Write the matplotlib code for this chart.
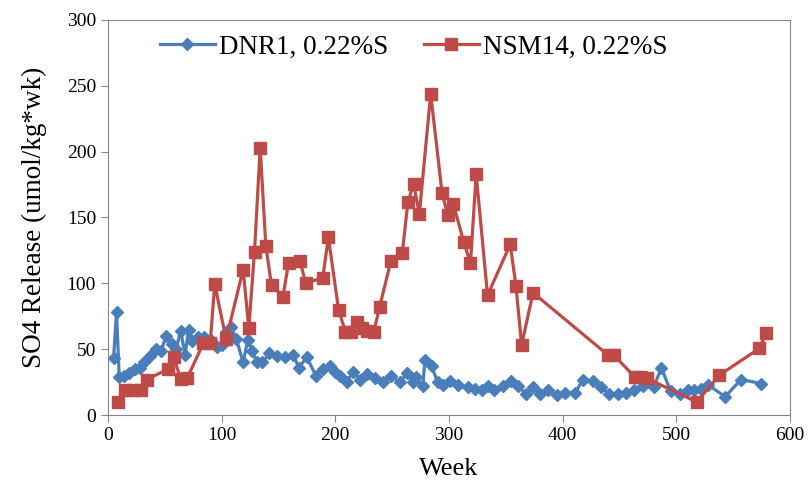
import numpy as np
import matplotlib.pyplot as plt

plt.rcParams['font.family'] = ['Liberation Serif', 'DejaVu Serif']

# DNR1 series (week, SO4 release)
dnr_week = [5, 7.6, 10, 14, 19, 24, 28, 32, 37, 42, 47, 51, 56, 60, 64, 68, 71, 74,
            79, 85, 91, 96, 100, 104, 108, 113, 119, 123, 127, 131, 136, 142, 149,
            156, 163, 168, 175, 183, 189, 195, 200, 204, 210, 216, 222, 228, 235,
            242, 249, 257, 263, 268, 271, 277, 279, 285, 290, 295, 301, 308, 317,
            323, 329, 334, 340, 348, 355, 361, 368, 374, 380, 387, 395, 402, 411,
            418, 427, 434, 441, 449, 456, 463, 471, 480, 487, 495, 503, 510, 516,
            522, 528, 543, 557, 575]
dnr_val = [43, 78, 29, 30, 32, 35, 36, 40, 45, 50, 49, 60, 54, 50, 64, 46, 65, 56,
           59, 59, 57, 52, 53, 63, 67, 58, 40, 57, 49, 40, 40, 47, 45,
           44, 46, 36, 44, 30, 35, 37, 33, 30, 25, 33, 27, 31, 28,
           25, 30, 25, 32, 25, 29, 22, 42, 37, 25, 23, 26, 23, 21,
           20, 19, 22, 19, 22, 26, 22, 16, 21, 16, 19, 15, 17, 17,
           27, 26, 21, 16, 16, 17, 19, 22, 21, 36, 18, 16, 19, 19,
           20, 23, 14, 27, 24]

# NSM14 series
nsm_week = [8.5, 15, 22, 29, 34, 53, 58, 64, 70, 84, 90, 94, 104, 119, 124, 129,
            134, 139, 144, 154, 159, 169, 174, 189, 194, 203, 209, 214, 219, 224,
            228, 234, 239, 249, 259, 264, 269, 274, 284, 294, 299, 304, 313, 319,
            324, 334, 354, 359, 364, 374, 440, 445, 464, 469, 474, 518, 538, 573,
            579]
nsm_val = [10, 19, 19, 19, 27, 35, 44, 27.5, 28.5, 54.5, 54.5, 99.5, 57.5, 110.5,
           66, 124, 203, 128, 98.5, 90, 115.7, 117, 100.5, 104, 135, 79.7, 63.3,
           63.3, 71, 66, 64, 63.3, 82, 117, 123, 162, 175.4, 152.6, 243.8, 168.5,
           152, 160, 131.6, 115.2, 182.8, 91, 129.6, 98, 53.2, 92.9, 45.6, 45.6,
           28.6, 28.6, 28, 10, 30.4, 50.6, 62]

fig = plt.figure(figsize=(8.11, 4.96), dpi=100)
ax = fig.add_axes([0.133, 0.163, 0.841, 0.797])

ax.plot(dnr_week, dnr_val, color='#4A7EBB', lw=2.3, marker='D', ms=6.5,
        label='DNR1, 0.22%S')
ax.plot(nsm_week, nsm_val, color='#BE4B48', lw=2.3, marker='s', ms=8.5,
        label='NSM14, 0.22%S')

ax.set_xlim(0, 600)
ax.set_ylim(0, 300)
ax.set_xticks(np.arange(0, 601, 100))
ax.set_yticks(np.arange(0, 301, 50))

for s in ax.spines.values():
    s.set_color('#868686')
ax.tick_params(direction='out', length=5, color='#868686', labelsize=14,
               labelcolor='black')

ax.set_xlabel('Week', fontsize=19, labelpad=10)
ax.set_ylabel('SO4 Release (umol/kg*wk)', fontsize=19.5, labelpad=14)

ax.legend(loc='upper left', ncol=2, frameon=False, fontsize=19.5,
          handlelength=2.05, handletextpad=0.15, columnspacing=1.3,
          borderaxespad=0, bbox_to_anchor=(0.060, 0.99))

fig.savefig('out.png', dpi=100)
